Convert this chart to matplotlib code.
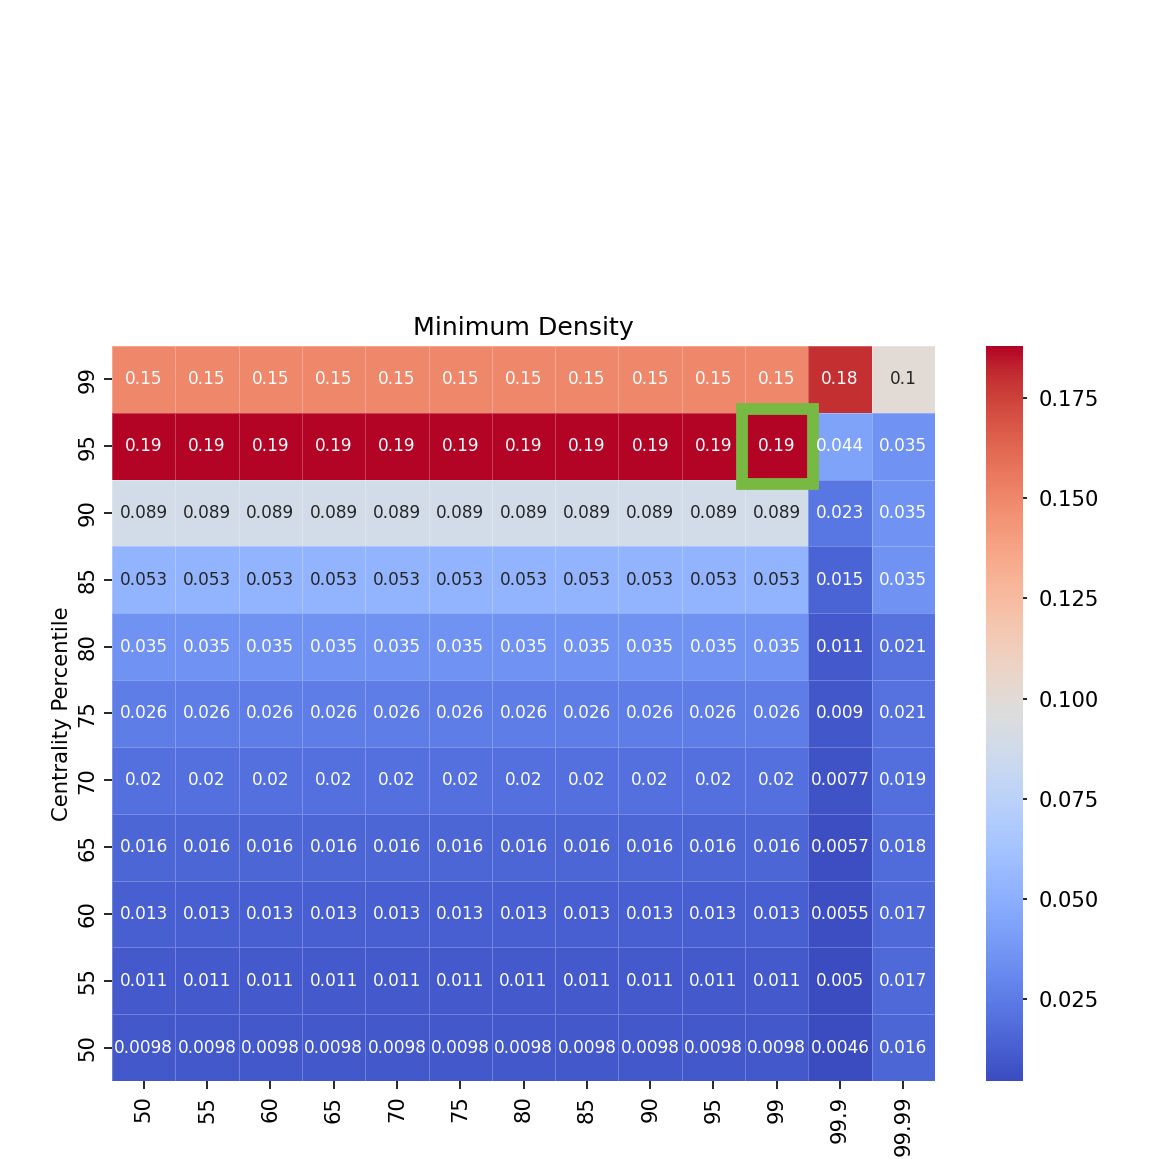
import numpy as np
import pandas as pd
import matplotlib
matplotlib.use("Agg")
import matplotlib.pyplot as plt
import seaborn as sns
from matplotlib.patches import Rectangle

col_labels = ["50", "55", "60", "65", "70", "75", "80", "85", "90", "95", "99", "99.9", "99.99"]
row_labels = ["99", "95", "90", "85", "80", "75", "70", "65", "60", "55", "50"]

# same value for columns 50..99
base_vals = [0.15, 0.188, 0.089, 0.053, 0.035, 0.026, 0.02, 0.016, 0.013, 0.011, 0.0098]
col_999 = [0.18, 0.044, 0.023, 0.015, 0.011, 0.009, 0.0077, 0.0057, 0.0055, 0.005, 0.0046]
col_9999 = [0.1, 0.035, 0.035, 0.035, 0.021, 0.021, 0.019, 0.018, 0.017, 0.017, 0.016]

# highlighted cell (row, col)
highlight = ("95", "99")

grid = np.column_stack([np.array(base_vals)] * 11 + [np.array(col_999), np.array(col_9999)])
df = pd.DataFrame(grid, index=row_labels, columns=col_labels)

fig = plt.figure(figsize=(11.63, 11.59), dpi=100)
ax = fig.add_axes([0.0963, 0.0673, 0.7077, 0.6342])
cax = fig.add_axes([0.8478, 0.0673, 0.0318, 0.6342])

sns.heatmap(df, ax=ax, cbar_ax=cax, cmap="coolwarm", annot=True,
            annot_kws={"fontsize": 12.2}, linewidths=0.5,
            linecolor=(1, 1, 1, 0.25))

ax.set_title("Minimum Density", fontsize=18.2, pad=8)
ax.set_ylabel("Centrality Percentile", fontsize=15.2)
ax.set_xlabel("")
ax.tick_params(axis="both", labelsize=15.2, length=5.5, width=1.2, pad=5)
ax.set_xticklabels(col_labels, rotation=90)
ax.set_yticklabels(row_labels, rotation=90, va="center")

cax.tick_params(labelsize=15.2, length=3, width=1.2, pad=8)
cax.set_yticks([0.025, 0.05, 0.075, 0.1, 0.125, 0.15, 0.175])

r = row_labels.index(highlight[0])
c = col_labels.index(highlight[1])
ax.add_patch(Rectangle((c - 0.05, r - 0.06), 1.13, 1.13, fill=False,
                       edgecolor="#77b943", linewidth=8.5, clip_on=False))

fig.savefig("out.png", dpi=100)
